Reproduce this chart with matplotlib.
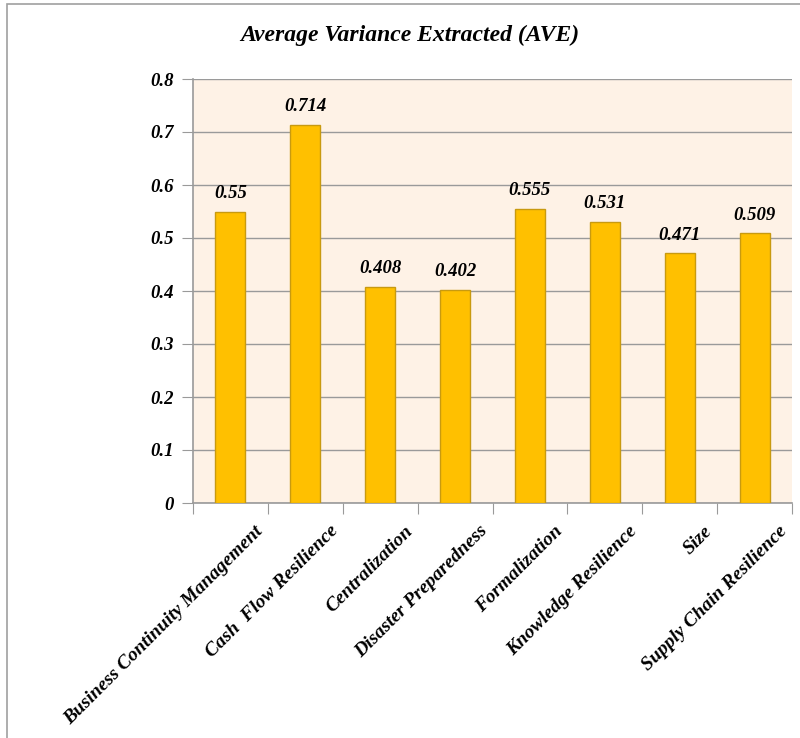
import matplotlib
matplotlib.use('Agg')
import matplotlib.pyplot as plt
import numpy as np
from matplotlib.patches import Rectangle

categories = ['Business Continuity Management', 'Cash  Flow Resilience', 'Centralization',
              'Disaster Preparedness', 'Formalization', 'Knowledge Resilience', 'Size',
              'Supply Chain Resilience']
ave_values = [0.55, 0.714, 0.408, 0.402, 0.555, 0.531, 0.471, 0.509]
value_labels = ['0.55', '0.714', '0.408', '0.402', '0.555', '0.531', '0.471', '0.509']
y_ticks = [0, 0.1, 0.2, 0.3, 0.4, 0.5, 0.6, 0.7, 0.8]
y_tick_labels = ['0', '0.1', '0.2', '0.3', '0.4', '0.5', '0.6', '0.7', '0.8']

plt.rcParams['font.family'] = ['Liberation Serif', 'DejaVu Serif']

fig = plt.figure(figsize=(8, 7.38), dpi=100)
ax = fig.add_axes([193 / 800, 1 - 503 / 738, (792 - 193) / 800, (503 - 79) / 738])
ax.set_facecolor('#FEF2E6')

# outer frame like the original screenshot
fig.patches.append(Rectangle((7 / 800, -0.01), 1.0, 1 - 4 / 738 + 0.01, transform=fig.transFigure,
                             fill=False, edgecolor='#A0A0A0', linewidth=1.2))

x = np.arange(len(categories))
ax.bar(x, ave_values, width=0.4, color='#FFC000', edgecolor='#C89A10', linewidth=1, zorder=3)

for xi, v, lab in zip(x, ave_values, value_labels):
    ax.text(xi, v + 0.018, lab, ha='center', va='bottom', fontsize=13.5,
            fontweight='bold', fontstyle='italic')

ax.set_xlim(-0.5, len(categories) - 0.5)
ax.set_ylim(0, 0.8)
ax.set_yticks(y_ticks)
ax.set_yticklabels(y_tick_labels, fontsize=13.5, fontweight='bold', fontstyle='italic')
ax.yaxis.grid(True, color='#9A9A9A', linewidth=1, zorder=0)
ax.set_axisbelow(True)

# boundary ticks (major) and category labels (minor, nudged right like Excel)
ax.set_xticks(np.arange(len(categories) + 1) - 0.5)
ax.set_xticklabels([])
ax.set_xticks(x + 0.32, minor=True)
ax.set_xticklabels(categories, minor=True, rotation=45, ha='right', rotation_mode='anchor',
                   fontsize=14, fontweight='bold', fontstyle='italic')
ax.tick_params(axis='x', which='minor', length=0, pad=14)
ax.tick_params(axis='x', which='major', length=8, color='#9A9A9A')
ax.tick_params(axis='y', length=8, color='#9A9A9A', pad=6)

for s in ['top', 'right']:
    ax.spines[s].set_visible(False)
for s in ['left', 'bottom']:
    ax.spines[s].set_color('#9A9A9A')
    ax.spines[s].set_linewidth(1.2)

fig.text(410 / 800, 1 - 35 / 738, 'Average Variance Extracted (AVE)', ha='center', va='center',
         fontsize=17, fontweight='bold', fontstyle='italic')

fig.savefig('out.png', dpi=100)
